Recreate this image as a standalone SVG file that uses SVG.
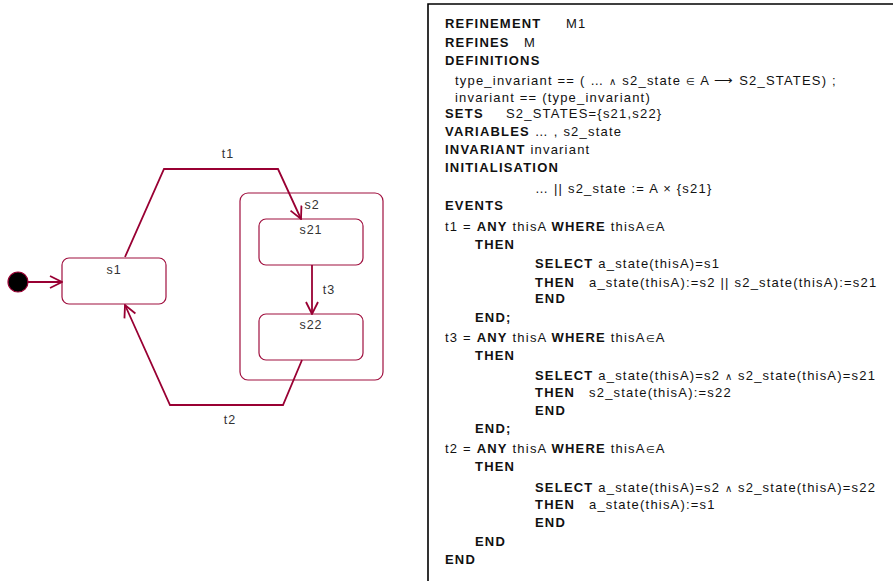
<svg xmlns="http://www.w3.org/2000/svg" width="893" height="581" viewBox="0 0 893 581">
<style>
.st{fill:#fff;stroke:#a0103f;stroke-width:1.2}
.lb{font-family:"Liberation Sans",Arial,sans-serif;font-size:12.5px;fill:#333;text-anchor:middle;letter-spacing:1px}
.cn{fill:none;stroke:#990033;stroke-width:1.8}
.tx{font-family:"Liberation Sans",Arial,sans-serif;font-size:13px;fill:#111;letter-spacing:1.2px}
.b{font-weight:bold}
.sm{font-size:10px}
</style>
<defs>
<marker id="ah" markerUnits="userSpaceOnUse" markerWidth="14" markerHeight="14" viewBox="0 0 14 14" refX="13" refY="7" orient="auto">
<path d="M1,1 L13,7 L1,13" fill="none" stroke="#990033" stroke-width="1.8"/>
</marker>
</defs>
<g id="initial"><circle cx="18" cy="282" r="10" fill="#000" stroke="#990033" stroke-width="1.2"/></g>
<g id="s1"><rect class="st" x="62" y="258" width="104" height="46" rx="7"/><text class="lb" x="114" y="274">s1</text></g>
<g id="s2"><rect class="st" x="240" y="193" width="143" height="187" rx="8"/><text class="lb" x="312" y="209">s2</text></g>
<g id="s21"><rect class="st" x="259" y="219" width="104" height="46" rx="7"/><text class="lb" x="311" y="234">s21</text></g>
<g id="s22"><rect class="st" x="259" y="314" width="104" height="46" rx="7"/><text class="lb" x="311" y="329">s22</text></g>
<g id="connectors">
<path class="cn" d="M28,282 L62,282" marker-end="url(#ah)"/>
<path class="cn" d="M125,257 L164,169 L278,169 L301,219" marker-end="url(#ah)"/>
<path class="cn" d="M312,265 L312,314" marker-end="url(#ah)"/>
<path class="cn" d="M302,360 L283,405 L170,405 L125,305" marker-end="url(#ah)"/>
<text class="lb" x="228" y="158">t1</text>
<text class="lb" x="329" y="294">t3</text>
<text class="lb" x="230" y="424">t2</text>
</g>
<g id="spec">
<path d="M428,581 L428,4 L893,4" fill="none" stroke="#000" stroke-width="1.6"/>
<text class="tx b" x="445" y="28">REFINEMENT</text><text class="tx" x="566" y="28">M1</text>
<text class="tx b" x="445" y="47">REFINES</text><text class="tx" x="524" y="47">M</text>
<text class="tx b" x="445" y="65">DEFINITIONS</text>
<text class="tx" x="455" y="85">type_invariant == ( … <tspan class="sm">∧</tspan> s2_state <tspan class="sm">∈</tspan> A ⟶ S2_STATES) ;</text>
<text class="tx" x="455" y="102">invariant == (type_invariant)</text>
<text class="tx b" x="445" y="118">SETS</text><text class="tx" x="506" y="118">S2_STATES={s21,s22}</text>
<text class="tx" x="445" y="136"><tspan class="b">VARIABLES</tspan> … , s2_state</text>
<text class="tx" x="445" y="154"><tspan class="b">INVARIANT</tspan> invariant</text>
<text class="tx b" x="445" y="172">INITIALISATION</text>
<text class="tx" x="535" y="193">… ||  s2_state := A ×  {s21}</text>
<text class="tx b" x="445" y="210">EVENTS</text>
<text class="tx" x="445" y="231">t1 = <tspan class="b">ANY</tspan> thisA <tspan class="b">WHERE</tspan> thisA<tspan class="sm">∈</tspan>A</text>
<text class="tx b" x="475" y="249">THEN</text>
<text class="tx" x="535" y="268"><tspan class="b">SELECT</tspan> a_state(thisA)=s1</text>
<text class="tx b" x="535" y="287">THEN</text><text class="tx" x="589" y="287">a_state(thisA):=s2 || s2_state(thisA):=s21</text>
<text class="tx b" x="535" y="303">END</text>
<text class="tx b" x="475" y="322">END;</text>
<text class="tx" x="445" y="342">t3 = <tspan class="b">ANY</tspan> thisA <tspan class="b">WHERE</tspan> thisA<tspan class="sm">∈</tspan>A</text>
<text class="tx b" x="475" y="360">THEN</text>
<text class="tx" x="535" y="380"><tspan class="b">SELECT</tspan> a_state(thisA)=s2 <tspan class="sm">∧</tspan> s2_state(thisA)=s21</text>
<text class="tx b" x="535" y="397">THEN</text><text class="tx" x="589" y="397">s2_state(thisA):=s22</text>
<text class="tx b" x="535" y="415">END</text>
<text class="tx b" x="475" y="433">END;</text>
<text class="tx" x="445" y="453">t2 = <tspan class="b">ANY</tspan> thisA <tspan class="b">WHERE</tspan> thisA<tspan class="sm">∈</tspan>A</text>
<text class="tx b" x="475" y="471">THEN</text>
<text class="tx" x="535" y="492"><tspan class="b">SELECT</tspan> a_state(thisA)=s2 <tspan class="sm">∧</tspan> s2_state(thisA)=s22</text>
<text class="tx b" x="535" y="509">THEN</text><text class="tx" x="589" y="509">a_state(thisA):=s1</text>
<text class="tx b" x="535" y="527">END</text>
<text class="tx b" x="475" y="546">END</text>
<text class="tx b" x="445" y="564">END</text>
</g>
</svg>
